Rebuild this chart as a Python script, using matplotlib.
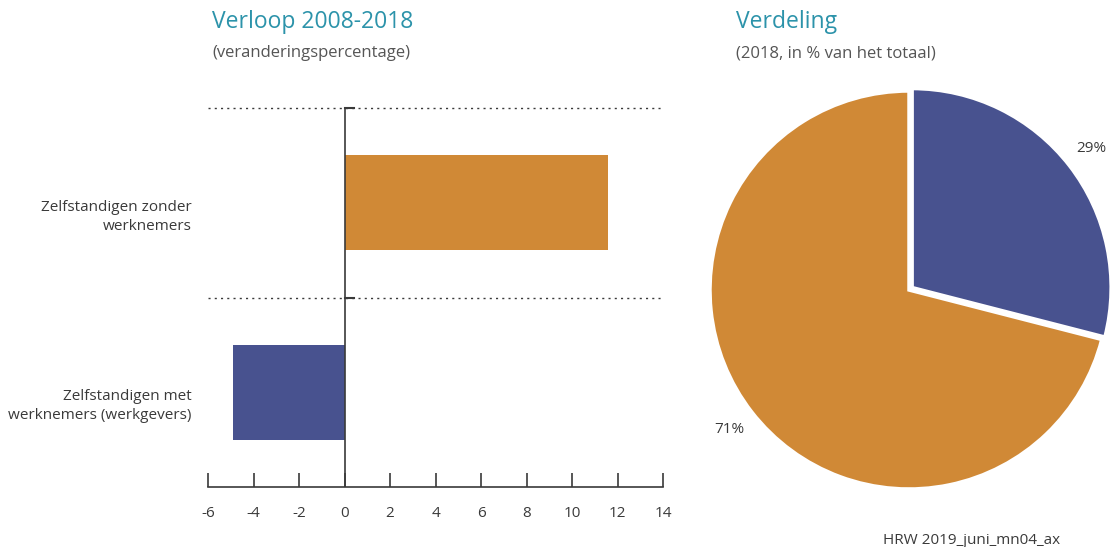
import numpy as np
import matplotlib
matplotlib.use('Agg')
import matplotlib.pyplot as plt
import matplotlib.transforms as mtrans

plt.rcParams['font.family'] = ['Open Sans', 'DejaVu Sans']

# data
categories = ['Zelfstandigen met\nwerknemers (werkgevers)',
              'Zelfstandigen zonder\nwerknemers']
change = [-4.9, 11.6]
share_labels = ['29%', '71%']
shares = [29, 71]
xticks = np.arange(-6, 15, 2)

orange = '#D08936'
blue = '#48528F'
teal = '#2C93AA'
dark = '#3a3a3a'

fig = plt.figure(figsize=(11.12, 5.47), dpi=100)

# left: bar chart
ax = fig.add_axes([208/1112, 1-487/547, 455/1112, 379/547])
ax.barh([0, 1], change, height=0.5, color=[blue, orange])
ax.set_xlim(-6, 14)
ax.set_ylim(-0.5, 1.5)
for s in ['top', 'right', 'left']:
    ax.spines[s].set_visible(False)
ax.spines['bottom'].set_color(dark)
ax.spines['bottom'].set_linewidth(1.2)
ax.set_xticks(xticks)
ax.set_xticklabels([str(t) for t in xticks])
ax.tick_params(axis='x', direction='in', length=10, width=1.2, color=dark,
               labelsize=11, labelcolor=dark, pad=14)
ax.set_yticks([0, 1])
ax.set_yticklabels(categories, fontsize=11, color=dark, linespacing=1.35)
ax.tick_params(axis='y', length=0, pad=12)
# category labels sit a little below the bar centre in the original
off = mtrans.ScaledTranslation(0, -10/100, fig.dpi_scale_trans)
for lab in ax.get_yticklabels():
    lab.set_horizontalalignment('right')
    lab.set_transform(lab.get_transform() + off)
for yv in [0.5, 1.5]:
    ax.axhline(yv, color=dark, linestyle=(0, (1.5, 3)), linewidth=1.0, clip_on=False)
    ax.plot([0, 0.4], [yv, yv], color=dark, linewidth=1.5, clip_on=False)
ax.axvline(0, color=dark, linewidth=1.2)

fig.text(212/1112, 1-22/547, 'Verloop 2008-2018', fontsize=16.5, color=teal,
         va='center', ha='left', fontweight='medium')
fig.text(212/1112, 1-53/547, '(veranderingspercentage)', fontsize=12, color='#555555',
         va='center', ha='left')

# right: pie chart
pax = fig.add_axes([710/1112, 1-489/547, 398/1112, 398/547])
wedges, texts = pax.pie(shares, labels=share_labels, colors=[blue, orange],
                        startangle=90, counterclock=False, explode=[0.02, 0],
                        labeldistance=1.14,
                        wedgeprops=dict(edgecolor='white', linewidth=2.5),
                        textprops=dict(fontsize=11, color=dark))
for t in texts:
    t.set_horizontalalignment('center')
pax.set_xlim(-1, 1)
pax.set_ylim(-1, 1)
pax.set_aspect('equal')

fig.text(736/1112, 1-22/547, 'Verdeling', fontsize=16.5, color=teal,
         va='center', ha='left', fontweight='medium')
fig.text(736/1112, 1-53/547, '(2018, in % van het totaal)', fontsize=12, color='#555555',
         va='center', ha='left')

fig.text(1060/1112, 1-540/547, 'HRW 2019_juni_mn04_ax', fontsize=11, color=dark,
         va='center', ha='right')

fig.savefig('out.png', dpi=100)
